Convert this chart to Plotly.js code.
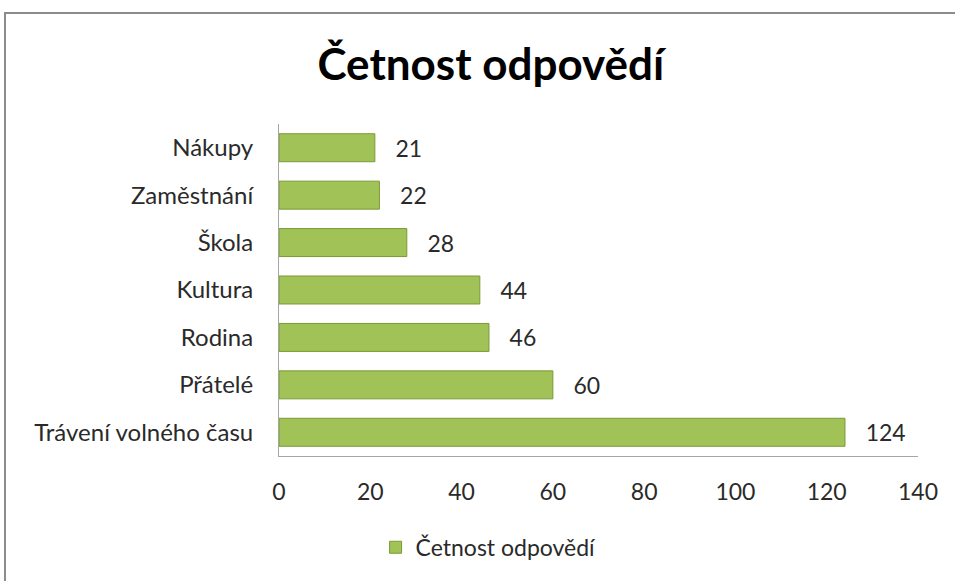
<!DOCTYPE html>
<html>
<head>
<meta charset="utf-8">
<script src="https://cdn.plot.ly/plotly-3.0.1.min.js"></script>
<style>
html,body{margin:0;padding:0;background:#fff;overflow:hidden;}
#chart{width:955px;height:581px;position:absolute;left:0;top:0;}
#frame{position:absolute;left:4px;top:12px;width:1000px;height:700px;border-top:2px solid #8c8c8c;border-left:2px solid #8c8c8c;pointer-events:none;}
</style>
</head>
<body>
<div id="chart"></div>
<div id="frame"></div>
<script>
const categories = ["Nákupy","Zaměstnání","Škola","Kultura","Rodina","Přátelé","Trávení volného času"];
const counts = [21, 22, 28, 44, 46, 60, 124];
const seriesName = "Četnost odpovědí";
const xTicks = [0, 20, 40, 60, 80, 100, 120, 140];

const FONT = "Lato, 'Open Sans', sans-serif";
const TXT = "#2a2a2a";

const trace = {
  type: "bar",
  orientation: "h",
  y: categories,
  x: counts,
  name: seriesName,
  width: 0.59,
  marker: {color: "#a0c256", line: {color: "#7a9a35", width: 1}},
  text: counts.map(String),
  texttemplate: "\u00a0\u00a0\u00a0%{text}",
  textposition: "outside",
  cliponaxis: false,
  textfont: {family: FONT, size: 23, color: TXT},
  hoverinfo: "x+y"
};

const layout = {
  width: 955, height: 581,
  margin: {l: 279, r: 37, t: 124, b: 123},
  paper_bgcolor: "#fff", plot_bgcolor: "#fff",
  font: {family: FONT, color: TXT},
  title: {
    text: "<b>Četnost odpovědí</b>",
    font: {family: FONT, size: 44, color: "#000"},
    x: 0.514, xanchor: "center", xref: "container",
    y: 0.888, yanchor: "middle", yref: "container"
  },
  xaxis: {
    range: [0, 140], tickvals: xTicks, ticktext: xTicks.map(String),
    showgrid: false, zeroline: false, showline: true, linecolor: "#a6a6a6", linewidth: 1,
    ticks: "", ticklabelstandoff: 15,
    tickfont: {family: FONT, size: 23, color: TXT}, fixedrange: true
  },
  yaxis: {
    autorange: "reversed", type: "category",
    showgrid: false, zeroline: false, showline: true, linecolor: "#a6a6a6", linewidth: 1,
    ticks: "", ticklabelstandoff: 20,
    tickfont: {family: FONT, size: 24, color: TXT}, fixedrange: true
  },
  showlegend: true,
  legend: {
    orientation: "h", x: 0.328, xanchor: "center", y: -0.275, yanchor: "middle",
    font: {family: FONT, size: 23, color: TXT}, itemwidth: 30
  },
  bargap: 0.41
};

Plotly.newPlot("chart", [trace], layout, {displayModeBar: false, staticPlot: true});
</script>
</body>
</html>
